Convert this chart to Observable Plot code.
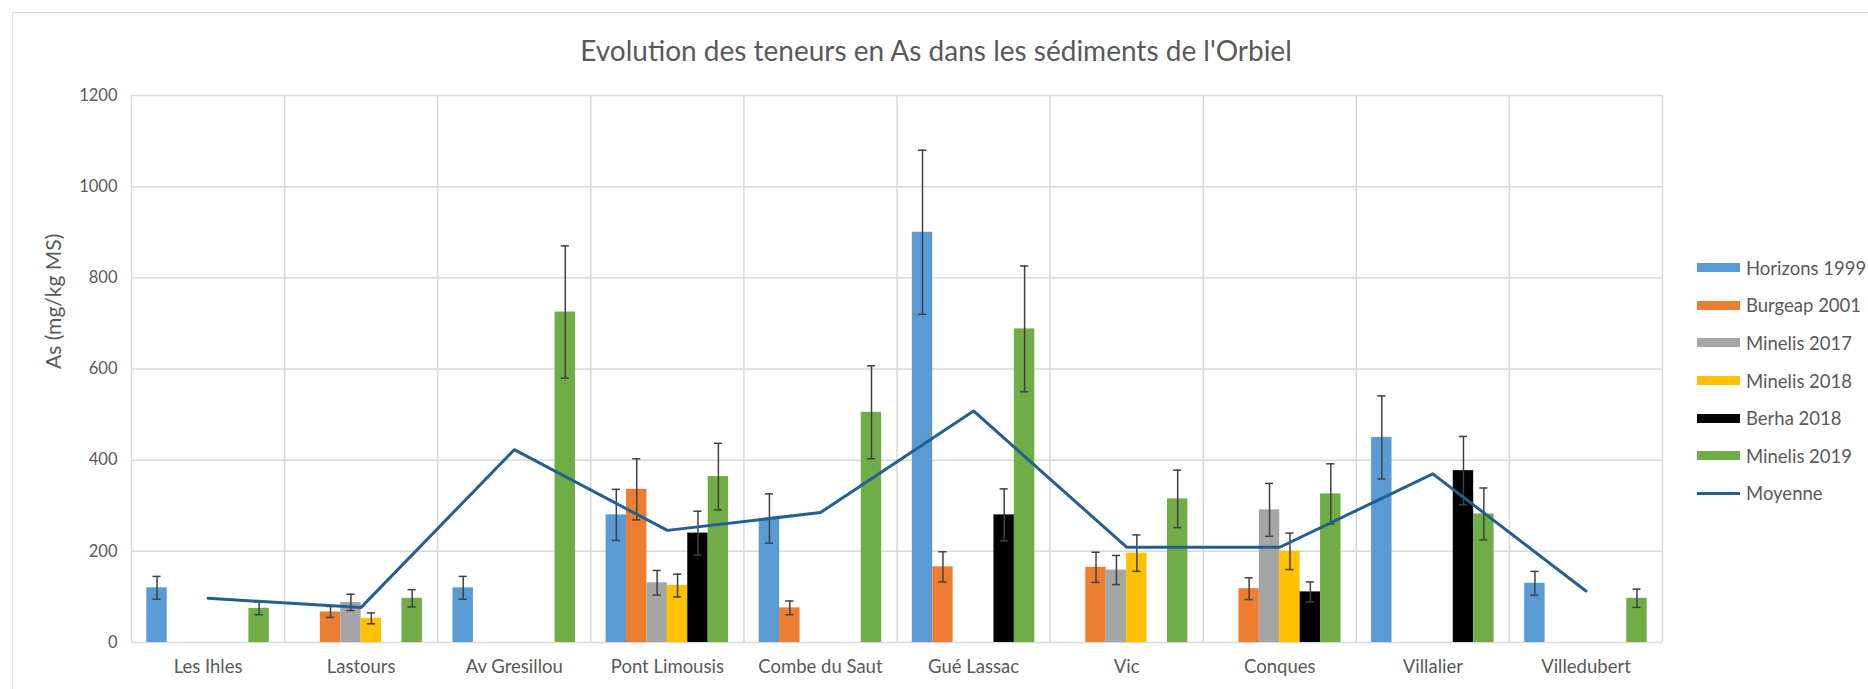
<!DOCTYPE html>
<html>
<head>
<meta charset="utf-8">
<script src="https://cdn.jsdelivr.net/npm/d3@7"></script>
<script src="https://cdn.jsdelivr.net/npm/@observablehq/plot@0.6"></script>
<style>
  html, body { margin: 0; padding: 0; background: #fff; }
  #wrap { position: relative; width: 1868px; height: 689px; overflow: hidden; font-family: Lato, "Open Sans", sans-serif; color: #595959; }
  #frame { position: absolute; left: 12px; top: 12px; width: 1900px; height: 800px; border: 1px solid #d9d9d9; box-sizing: border-box; }
  #title { position: absolute; left: 2px; width: 1868px; top: 33px; text-align: center; font-size: 28px; line-height: 34px; color: #595959; }
  #chart { position: absolute; left: 0; top: 80px; }
  #legend { position: absolute; left: 1697px; top: 249px; }
  .item { height: 37.6px; display: flex; align-items: center; font-size: 18.5px; color: #595959; white-space: nowrap; }
  .sw { width: 43px; height: 9px; margin-right: 6px; }
  .ln { width: 43px; height: 3px; margin-right: 6px; }
</style>
</head>
<body>
<div id="wrap">
  <div id="frame"></div>
  <div id="title"></div>
  <div id="chart"></div>
  <div id="legend"></div>
</div>
<script>
// ---- Data ----
const title = "Evolution des teneurs en As dans les sédiments de l'Orbiel";
const yLabel = "As (mg/kg MS)";
const categories = ["Les Ihles", "Lastours", "Av Gresillou", "Pont Limousis", "Combe du Saut", "Gué Lassac", "Vic", "Conques", "Villalier", "Villedubert"];
const seriesNames = ["Horizons 1999", "Burgeap 2001", "Minelis 2017", "Minelis 2018", "Berha 2018", "Minelis 2019"];
const seriesColors = ["#5B9BD5", "#ED7D31", "#A5A5A5", "#FFC000", "#000000", "#70AD47"];
const lineName = "Moyenne";
const lineColor = "#255E91";
const yTicks = [0, 200, 400, 600, 800, 1000, 1200];

const horizons1999 = [120, null, 120, 280, 272, 900, null, null, 450, 130];
const burgeap2001  = [null, 67, null, 336, 76, 166, 165, 118, null, null];
const minelis2017  = [null, 88, null, 131, null, null, 159, 291, null, null];
const minelis2018  = [null, 53, null, 125, null, null, 196, 200, null, null];
const berha2018    = [null, null, null, 240, null, 280, null, 111, 377, null];
const minelis2019  = [75, 97, 725, 364, 505, 688, 315, 326, 282, 97];

const errHorizons1999 = [25, null, 25, 56, 54, 180, null, null, 91, 26];
const errBurgeap2001  = [null, 12, null, 67, 15, 33, 33, 24, null, null];
const errMinelis2017  = [null, 18, null, 27, null, null, 32, 58, null, null];
const errMinelis2018  = [null, 12, null, 25, null, null, 40, 40, null, null];
const errBerha2018    = [null, null, null, 48, null, 57, null, 22, 75, null];
const errMinelis2019  = [14, 19, 145, 73, 102, 138, 63, 66, 57, 20];

const moyenne = [97, 77, 423, 246, 285, 508, 209, 209, 370, 113];

// ---- Build tables ----
const seriesValues = [horizons1999, burgeap2001, minelis2017, minelis2018, berha2018, minelis2019];
const seriesErrors = [errHorizons1999, errBurgeap2001, errMinelis2017, errMinelis2018, errBerha2018, errMinelis2019];
const rows = [];
seriesValues.forEach((vals, s) => vals.forEach((v, i) => {
  if (v != null) rows.push({i, s, series: seriesNames[s], value: v, err: seriesErrors[s][i]});
}));
const lineRows = moyenne.map((v, i) => ({i, value: v}));
const nS = seriesNames.length;
const barW = 0.8 / nS;              // group occupies 80% of the category
const capW = barW * 0.2;
const center = d => d.i + (d.s - (nS - 1) / 2) * barW;
const boundaries = d3.range(categories.length + 1).map(i => i - 0.5);

document.getElementById("title").textContent = title;

const chart = Plot.plot({
  width: 1868,
  height: 609,
  marginLeft: 131,
  marginRight: 206,
  marginTop: 15,
  marginBottom: 47,
  style: {fontFamily: "Lato, 'Open Sans', sans-serif", fontSize: "17px", color: "#595959", background: "transparent"},
  x: {type: "linear", domain: [-0.5, categories.length - 0.5], axis: null},
  y: {domain: [0, 1200], axis: null},
  color: {domain: seriesNames, range: seriesColors},
  marks: [
    Plot.ruleY(yTicks, {stroke: "#d9d9d9", strokeWidth: 1.5}),
    Plot.ruleX(boundaries, {y1: 0, y2: 1200, stroke: "#d9d9d9", strokeWidth: 1.5}),
    Plot.rectY(rows, {x1: d => center(d) - barW / 2, x2: d => center(d) + barW / 2, y1: 0, y2: "value", fill: "series"}),
    Plot.ruleX(rows, {x: center, y1: d => d.value - d.err, y2: d => d.value + d.err, stroke: "#404040", strokeWidth: 1.5}),
    Plot.ruleY(rows, {y: d => d.value + d.err, x1: d => center(d) - capW, x2: d => center(d) + capW, stroke: "#404040", strokeWidth: 1.5}),
    Plot.ruleY(rows, {y: d => d.value - d.err, x1: d => center(d) - capW, x2: d => center(d) + capW, stroke: "#404040", strokeWidth: 1.5}),
    Plot.line(lineRows, {x: "i", y: "value", stroke: lineColor, strokeWidth: 3}),
    Plot.axisY({ticks: yTicks, tickFormat: d => String(d), tickSize: 0, tickPadding: 14, label: null, fontSize: 16.5}),
    Plot.axisX({ticks: d3.range(categories.length), tickFormat: i => categories[i], tickSize: 0, tickPadding: 17, label: null, fontSize: 18.5}),
    Plot.text([yLabel], {frameAnchor: "left", dx: -77, rotate: -90, fill: "#595959", fontSize: 21})
  ]
});
document.getElementById("chart").appendChild(chart);

// ---- Legend ----
const legend = document.getElementById("legend");
seriesNames.forEach((n, s) => {
  const it = document.createElement("div");
  it.className = "item";
  it.innerHTML = `<div class="sw" style="background:${seriesColors[s]}"></div><span></span>`;
  it.querySelector("span").textContent = n;
  legend.appendChild(it);
});
const li = document.createElement("div");
li.className = "item";
li.innerHTML = `<div class="ln" style="background:${lineColor}"></div><span></span>`;
li.querySelector("span").textContent = lineName;
legend.appendChild(li);
</script>
</body>
</html>
